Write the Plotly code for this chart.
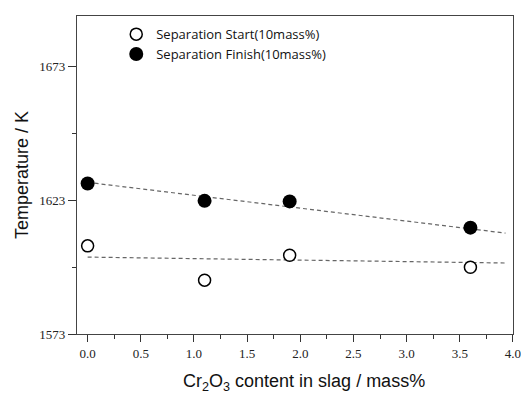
import numpy as np
import plotly.graph_objects as go

# Cr2O3 content in slag (mass%)
cr2o3 = [0.0, 1.1, 1.9, 3.6]
# Temperatures (K)
start_temp = [1605.9, 1593.1, 1602.4, 1597.9]
finish_temp = [1629.2, 1622.7, 1622.5, 1612.7]

# Linear trend lines: (slope, intercept) and the x extent they are drawn over
start_fit = (-0.56, 1601.7)
finish_fit = (-4.82, 1629.6)
fit_x = [0.0, 3.93]

x_ticks = [0.0, 0.5, 1.0, 1.5, 2.0, 2.5, 3.0, 3.5, 4.0]
y_ticks = [1573, 1623, 1673]

fx = np.array(fit_x)
fig = go.Figure()

for (m, b) in (start_fit, finish_fit):
    fig.add_trace(go.Scatter(
        x=fx, y=m * fx + b, mode="lines", showlegend=False,
        line=dict(color="#666666", width=1.2, dash="4px,3px"),
        hoverinfo="skip"))

fig.add_trace(go.Scatter(
    x=cr2o3, y=start_temp, mode="markers", name="Separation Start(10mass%)",
    marker=dict(symbol="circle", size=12, color="white",
                line=dict(color="black", width=1.5))))
fig.add_trace(go.Scatter(
    x=cr2o3, y=finish_temp, mode="markers", name="Separation Finish(10mass%)",
    marker=dict(symbol="circle", size=14, color="black",
                line=dict(color="black", width=0))))

tick_font = dict(family="Liberation Serif", size=13, color="#222222")

fig.update_xaxes(
    range=[-0.1, 4.0005], tickvals=x_ticks,
    ticktext=[f"{v:.1f}" for v in x_ticks],
    ticks="outside", ticklen=7, tickwidth=1.2, tickcolor="#333333",
    minor=dict(ticks="outside", ticklen=4, dtick=0.25, tick0=0,
               tickcolor="#333333", tickwidth=1.2),
    showline=True, linecolor="#444444", linewidth=1.3, mirror=True,
    showgrid=False, zeroline=False, tickfont=tick_font, automargin=False,
    ticklabeloverflow="allow")
fig.update_yaxes(
    range=[1573, 1691.7], tickvals=y_ticks,
    ticks="outside", ticklen=8, tickwidth=1.2, tickcolor="#333333",
    minor=dict(ticks="outside", ticklen=4, dtick=25, tick0=1573,
               tickcolor="#333333", tickwidth=1.2),
    showline=True, linecolor="#444444", linewidth=1.3, mirror=True,
    showgrid=False, zeroline=False, tickfont=tick_font, automargin=False,
    ticklabeloverflow="allow")

title_font = dict(family="Liberation Sans", size=18, color="#111111")
fig.add_annotation(
    text="Cr<sub>2</sub>O<sub>3</sub> content in slag / mass%",
    xref="paper", yref="paper", x=0.52, y=0, yshift=-48,
    xanchor="center", yanchor="middle", showarrow=False, font=title_font)
fig.add_annotation(
    text="Temperature / K", textangle=-90,
    xref="paper", yref="paper", x=0, xshift=-55, y=0.5,
    xanchor="center", yanchor="middle", showarrow=False, font=title_font)

fig.update_layout(
    width=521, height=395,
    margin=dict(l=77, r=8, t=16, b=61, autoexpand=False),
    paper_bgcolor="white", plot_bgcolor="white",
    legend=dict(x=0.09, y=0.99, xanchor="left", yanchor="top",
                bgcolor="rgba(0,0,0,0)",
                font=dict(family="Open Sans", size=13, color="#111111")),
)

fig.write_html("out.html")
